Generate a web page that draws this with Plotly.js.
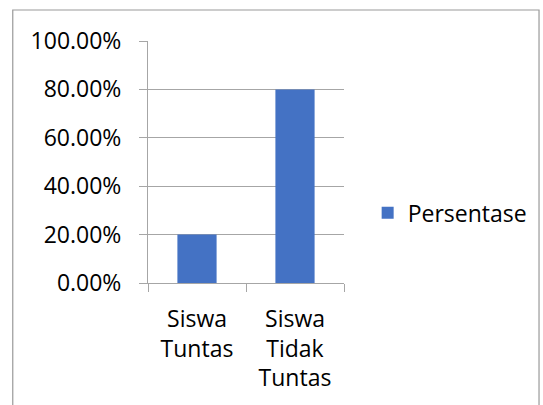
<!DOCTYPE html>
<html>
<head>
<meta charset="utf-8">
<script src="https://cdn.plot.ly/plotly-3.0.1.min.js"></script>
<style>html,body{margin:0;padding:0;background:#fff;}#chart{width:543px;height:405px;}</style>
</head>
<body>
<div id="chart"></div>
<script>
const categories = ["Siswa<br>Tuntas", "Siswa<br>Tidak<br>Tuntas"];
const persentase = [0.20, 0.80];
const seriesName = "Persentase";
const yTicks = [0, 0.2, 0.4, 0.6, 0.8, 1.0];

const gray = "#A6A6A6";
const fnt = {family: "Open Sans, Noto Sans, sans-serif", size: 23, color: "#000"};

const data = [{
  type: "bar",
  x: categories,
  y: persentase,
  name: seriesName,
  marker: {color: "#4472C4"},
  showlegend: true
}];

const layout = {
  width: 543, height: 405,
  margin: {l: 148, r: 198, t: 41, b: 122, pad: 0},
  paper_bgcolor: "#fff", plot_bgcolor: "#fff",
  font: fnt,
  bargap: 0.6,
  showlegend: true,
  legend: {x: 1.115, xanchor: "left", y: 0.29, yanchor: "middle", font: fnt, bgcolor: "rgba(0,0,0,0)"},
  xaxis: {
    type: "category",
    showline: true, linecolor: gray, linewidth: 1,
    ticks: "outside", tickson: "boundaries", ticklen: 8, tickcolor: gray,
    showgrid: false, zeroline: false,
    tickfont: fnt, ticklabelstandoff: 15
  },
  yaxis: {
    range: [0, 1], tickvals: yTicks, tickformat: ".2%",
    showline: true, linecolor: gray, linewidth: 1,
    ticks: "outside", ticklen: 8, tickcolor: gray,
    showgrid: true, gridcolor: gray, gridwidth: 1, zeroline: false,
    tickfont: fnt, ticklabelstandoff: 13
  },
  shapes: [{
    type: "rect", xref: "paper", yref: "paper",
    x0: -0.690, x1: 1.995, y0: -0.6, y1: 1.128,
    line: {color: "#9A9A9A", width: 1.2}, fillcolor: "rgba(0,0,0,0)", layer: "below"
  }]
};

Plotly.newPlot("chart", data, layout, {displayModeBar: false, staticPlot: true});
</script>
</body>
</html>
